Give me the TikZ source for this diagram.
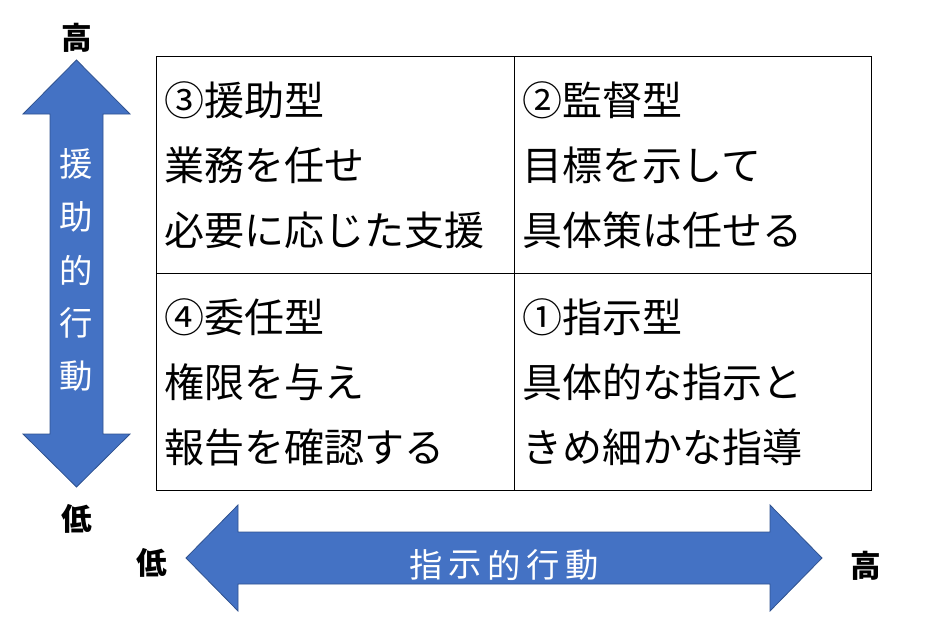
\documentclass[tikz,border=0pt]{standalone}
\usepackage{fontspec}
\setmainfont{Noto Sans CJK JP}
\usetikzlibrary{positioning}
\definecolor{arrowblue}{HTML}{4472C4}
\definecolor{arrowedge}{HTML}{2F528F}

\begin{document}
\begin{tikzpicture}[
    x=0.75pt, y=-0.75pt,
    cell/.style={draw, line width=0.9pt, minimum height=162.75pt,
        text width=256pt, inner xsep=6pt, align=left,
        font=\fontsize{30}{48.75}\selectfont},
    bigarrow/.style={fill=arrowblue, draw=arrowedge, line width=0.6pt},
    arrowtext/.style={text=white, inner sep=0pt, font=\fontsize{25}{30}\selectfont},
    level/.style={inner sep=0pt, font=\bfseries\fontsize{23}{27}\selectfont}
]
\useasboundingbox (0,0) rectangle (946,629);

% Quadrants
\node[cell] (q3) at (335.5,165) {③援助型\\業務を任せ\\必要に応じた支援};
\node[cell] (q2) at (693,165) {②監督型\\目標を示して\\具体策は任せる};
\node[cell] (q4) at (335.5,382) {④委任型\\権限を与え\\報告を確認する};
\node[cell] (q1) at (693,382) {①指示型\\具体的な指示と\\きめ細かな指導};

% Vertical arrow
\draw[bigarrow] (76.5,60) -- (130,114) -- (103,114) -- (103,434) -- (130,434)
    -- (76.5,487) -- (23,434) -- (50,434) -- (50,114) -- (23,114) -- cycle;
\foreach \ch [count=\i] in {援,助,的,行,動}
    \node[arrowtext] (v\i) at (76.5,{270+(\i-3)*53}) {\ch};

% Horizontal arrow
\draw[bigarrow] (186,558) -- (238,505) -- (238,532) -- (770,532) -- (770,505)
    -- (822,558) -- (770,611) -- (770,584) -- (238,584) -- (238,611) -- cycle;
\foreach \ch [count=\i] in {指,示,的,行,動}
    \node[arrowtext] (h\i) at ({504+(\i-3)*39},565) {\ch};

% Levels
\node[level] (vhigh) at (77,38) {高};
\node[level] (vlow) at (77,519) {低};
\node[level] (hlow) at (152,563) {低};
\node[level] (hhigh) at (866,566) {高};

\end{tikzpicture}
\end{document}
